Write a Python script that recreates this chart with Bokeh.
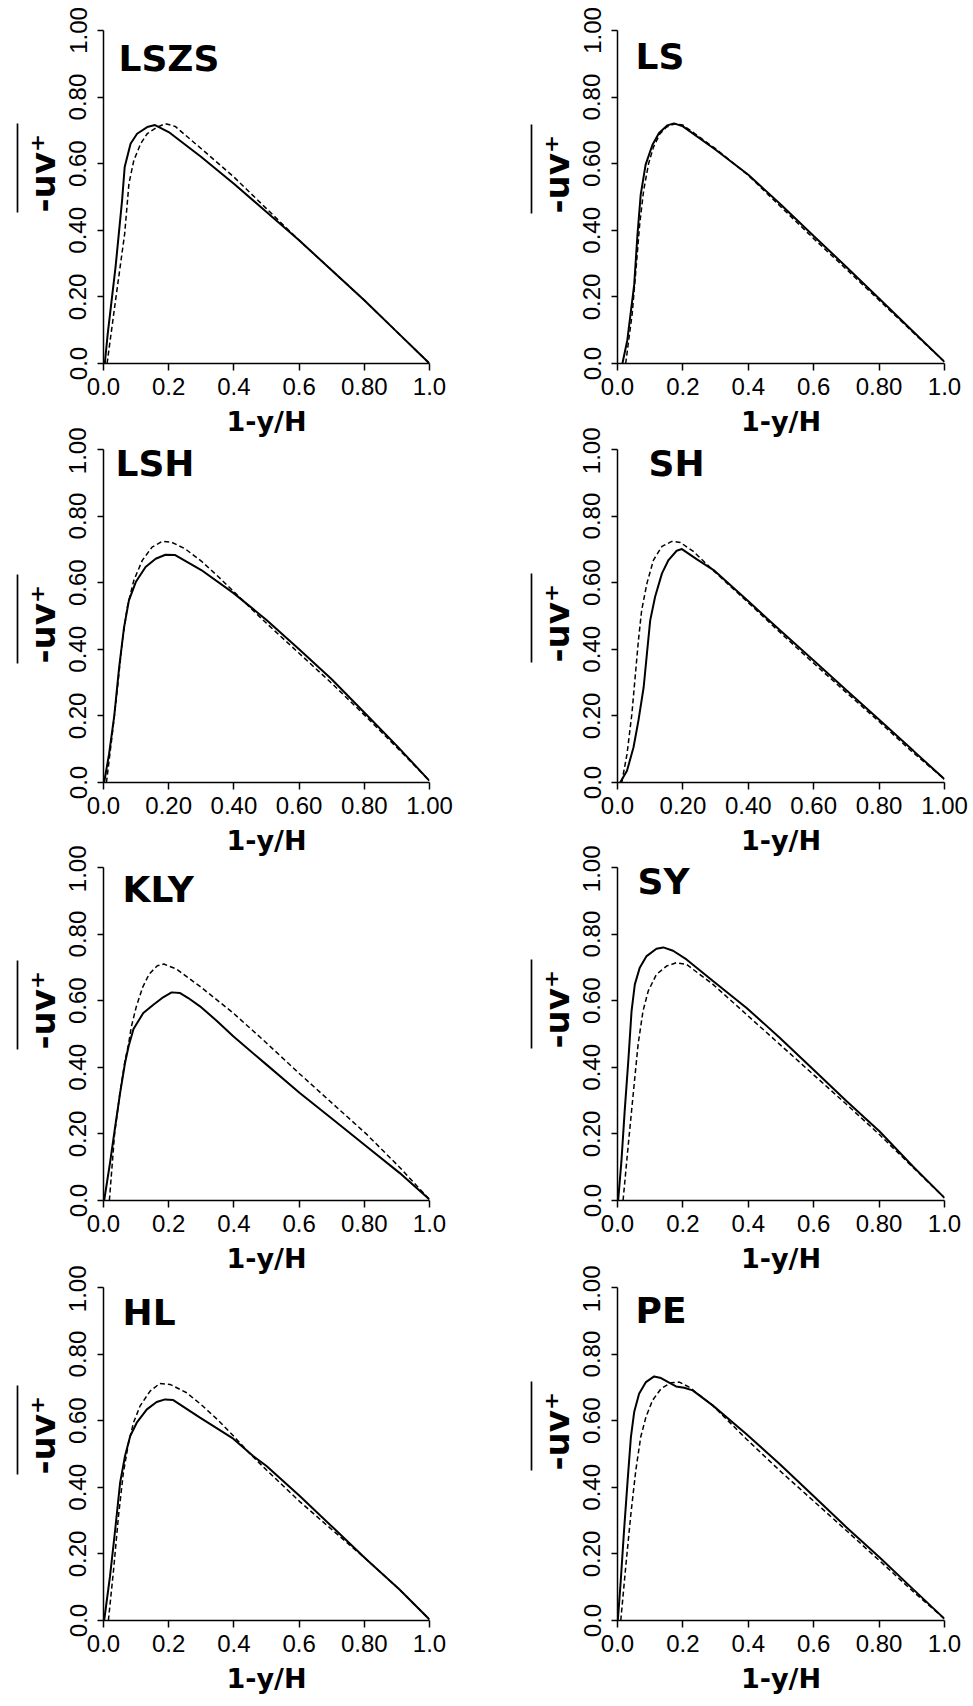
from bokeh.plotting import figure
from bokeh.layouts import row, column
from bokeh.models import Label, Title, LinearAxis, FixedTicker, Range1d
from bokeh.embed import file_html
from bokeh.resources import INLINE

# ---------------- data ----------------
panel_names = ["LSZS", "LS", "LSH", "SH", "KLY", "SY", "HL", "PE"]
tick_values = [0.0, 0.2, 0.4, 0.6, 0.8, 1.0]
x_labels_short = ["0.0", "0.2", "0.4", "0.6", "0.80", "1.0"]
x_labels_long = ["0.0", "0.20", "0.40", "0.60", "0.80", "1.00"]
y_labels = ["0.0", "0.20", "0.40", "0.60", "0.80", "1.00"]
x_title = "1-y/H"
y_title = "-uv\u207a"

lszs_solid_x = [0.004, 0.013, 0.037, 0.057, 0.065, 0.083, 0.103, 0.134, 0.158, 0.2, 0.3, 0.4, 0.5, 0.6, 0.7, 0.8, 0.9, 1.0]
lszs_solid_y = [0.0, 0.09, 0.29, 0.49, 0.59, 0.66, 0.69, 0.71, 0.716, 0.695, 0.62, 0.54, 0.455, 0.37, 0.28, 0.19, 0.095, 0.0]
lszs_dash_x = [0.011, 0.037, 0.065, 0.078, 0.093, 0.114, 0.134, 0.165, 0.19, 0.22, 0.3, 0.4, 0.5, 0.6, 0.7, 0.8, 0.9, 1.0]
lszs_dash_y = [0.0, 0.19, 0.39, 0.54, 0.61, 0.66, 0.69, 0.71, 0.72, 0.712, 0.645, 0.56, 0.465, 0.37, 0.28, 0.19, 0.095, 0.0]

ls_solid_x = [0.015, 0.03, 0.051, 0.061, 0.071, 0.086, 0.107, 0.127, 0.152, 0.173, 0.2, 0.3, 0.4, 0.5, 0.6, 0.7, 0.8, 0.9, 1.0]
ls_solid_y = [0.0, 0.07, 0.236, 0.386, 0.507, 0.597, 0.657, 0.692, 0.715, 0.721, 0.712, 0.642, 0.567, 0.477, 0.383, 0.29, 0.195, 0.1, 0.005]
ls_dash_x = [0.025, 0.045, 0.058, 0.068, 0.08, 0.095, 0.11, 0.13, 0.15, 0.175, 0.2, 0.3, 0.4, 0.5, 0.6, 0.7, 0.8, 0.9, 1.0]
ls_dash_y = [0.0, 0.15, 0.3, 0.42, 0.52, 0.6, 0.65, 0.69, 0.71, 0.72, 0.716, 0.645, 0.565, 0.47, 0.375, 0.283, 0.19, 0.097, 0.005]

lsh_solid_x = [0.002, 0.017, 0.033, 0.048, 0.063, 0.078, 0.099, 0.129, 0.16, 0.19, 0.22, 0.3, 0.4, 0.5, 0.6, 0.7, 0.8, 0.9, 1.0]
lsh_solid_y = [0.0, 0.085, 0.2, 0.346, 0.466, 0.547, 0.602, 0.647, 0.672, 0.684, 0.683, 0.638, 0.568, 0.488, 0.4, 0.31, 0.21, 0.11, 0.005]
lsh_dash_x = [0.009, 0.027, 0.043, 0.058, 0.073, 0.093, 0.119, 0.149, 0.18, 0.21, 0.25, 0.3, 0.35, 0.4, 0.45, 0.5, 0.6, 0.7, 0.8, 0.9, 1.0]
lsh_dash_y = [0.0, 0.145, 0.286, 0.426, 0.527, 0.607, 0.667, 0.707, 0.724, 0.721, 0.702, 0.665, 0.62, 0.573, 0.525, 0.478, 0.388, 0.298, 0.203, 0.105, 0.005]

sh_solid_x = [0.008, 0.029, 0.049, 0.064, 0.08, 0.09, 0.1, 0.115, 0.136, 0.156, 0.181, 0.197, 0.243, 0.294, 0.396, 0.497, 0.599, 0.701, 0.803, 0.905, 1.0]
sh_solid_y = [0.0, 0.035, 0.106, 0.186, 0.286, 0.387, 0.487, 0.558, 0.628, 0.668, 0.696, 0.701, 0.67, 0.638, 0.548, 0.457, 0.367, 0.276, 0.186, 0.095, 0.01]
sh_dash_x = [0.013, 0.029, 0.044, 0.054, 0.064, 0.074, 0.09, 0.11, 0.136, 0.166, 0.192, 0.232, 0.3, 0.4, 0.5, 0.6, 0.7, 0.8, 0.9, 1.0]
sh_dash_y = [0.0, 0.085, 0.206, 0.317, 0.427, 0.518, 0.598, 0.668, 0.709, 0.724, 0.721, 0.694, 0.63, 0.54, 0.448, 0.358, 0.27, 0.183, 0.093, 0.01]

kly_solid_x = [0.002, 0.02, 0.036, 0.051, 0.066, 0.077, 0.092, 0.122, 0.153, 0.184, 0.209, 0.235, 0.26, 0.296, 0.347, 0.398, 0.5, 0.602, 0.704, 0.806, 0.908, 1.0]
kly_solid_y = [0.0, 0.113, 0.223, 0.323, 0.413, 0.463, 0.515, 0.563, 0.588, 0.611, 0.625, 0.623, 0.608, 0.583, 0.54, 0.493, 0.408, 0.323, 0.243, 0.163, 0.083, 0.003]
kly_dash_x = [0.018, 0.034, 0.05, 0.066, 0.077, 0.085, 0.1, 0.12, 0.14, 0.165, 0.185, 0.224, 0.296, 0.398, 0.5, 0.602, 0.704, 0.806, 0.908, 1.0]
kly_dash_y = [0.0, 0.2, 0.32, 0.42, 0.47, 0.52, 0.58, 0.64, 0.68, 0.705, 0.71, 0.695, 0.643, 0.563, 0.473, 0.38, 0.29, 0.2, 0.1, 0.003]

sy_solid_x = [0.002, 0.012, 0.022, 0.033, 0.043, 0.053, 0.068, 0.089, 0.119, 0.14, 0.17, 0.211, 0.292, 0.394, 0.496, 0.598, 0.7, 0.801, 0.903, 1.0]
sy_solid_y = [0.0, 0.118, 0.269, 0.419, 0.569, 0.649, 0.699, 0.734, 0.756, 0.76, 0.75, 0.724, 0.659, 0.579, 0.489, 0.394, 0.299, 0.208, 0.103, 0.008]
sy_dash_x = [0.017, 0.033, 0.048, 0.063, 0.078, 0.094, 0.119, 0.15, 0.18, 0.211, 0.292, 0.394, 0.496, 0.598, 0.7, 0.801, 0.903, 1.0]
sy_dash_y = [0.0, 0.168, 0.319, 0.469, 0.569, 0.629, 0.679, 0.704, 0.714, 0.709, 0.649, 0.559, 0.469, 0.379, 0.289, 0.198, 0.1, 0.008]

hl_solid_x = [0.002, 0.02, 0.036, 0.051, 0.066, 0.082, 0.102, 0.133, 0.163, 0.189, 0.214, 0.296, 0.398, 0.459, 0.5, 0.602, 0.704, 0.806, 0.908, 1.0]
hl_solid_y = [0.0, 0.133, 0.274, 0.414, 0.494, 0.554, 0.594, 0.634, 0.656, 0.664, 0.662, 0.609, 0.546, 0.494, 0.464, 0.374, 0.279, 0.184, 0.093, 0.003]
hl_dash_x = [0.015, 0.031, 0.046, 0.061, 0.077, 0.092, 0.112, 0.143, 0.173, 0.204, 0.255, 0.3, 0.35, 0.4, 0.45, 0.5, 0.602, 0.704, 0.806, 0.908, 1.0]
hl_dash_y = [0.0, 0.153, 0.314, 0.444, 0.534, 0.594, 0.644, 0.689, 0.712, 0.709, 0.684, 0.648, 0.603, 0.553, 0.5, 0.452, 0.357, 0.27, 0.184, 0.093, 0.003]

pe_solid_x = [0.001, 0.01, 0.02, 0.031, 0.041, 0.051, 0.066, 0.087, 0.112, 0.133, 0.158, 0.179, 0.204, 0.23, 0.291, 0.393, 0.495, 0.597, 0.699, 0.801, 0.903, 1.0]
pe_solid_y = [0.0, 0.12, 0.27, 0.421, 0.551, 0.626, 0.681, 0.716, 0.733, 0.728, 0.714, 0.703, 0.699, 0.691, 0.646, 0.561, 0.471, 0.376, 0.281, 0.19, 0.095, 0.005]
pe_dash_x = [0.01, 0.026, 0.041, 0.056, 0.071, 0.087, 0.107, 0.133, 0.163, 0.189, 0.219, 0.291, 0.393, 0.495, 0.597, 0.699, 0.801, 0.903, 1.0]
pe_dash_y = [0.0, 0.17, 0.321, 0.451, 0.551, 0.611, 0.661, 0.696, 0.714, 0.716, 0.701, 0.646, 0.546, 0.451, 0.361, 0.271, 0.18, 0.088, 0.005]

solid_series = [(lszs_solid_x, lszs_solid_y), (ls_solid_x, ls_solid_y), (lsh_solid_x, lsh_solid_y), (sh_solid_x, sh_solid_y),
                (kly_solid_x, kly_solid_y), (sy_solid_x, sy_solid_y), (hl_solid_x, hl_solid_y), (pe_solid_x, pe_solid_y)]
dash_series = [(lszs_dash_x, lszs_dash_y), (ls_dash_x, ls_dash_y), (lsh_dash_x, lsh_dash_y), (sh_dash_x, sh_dash_y),
               (kly_dash_x, kly_dash_y), (sy_dash_x, sy_dash_y), (hl_dash_x, hl_dash_y), (pe_dash_x, pe_dash_y)]
x_label_sets = [x_labels_short, x_labels_short, x_labels_long, x_labels_long,
                x_labels_short, x_labels_short, x_labels_short, x_labels_short]

# ---------------- layout / style ----------------
FRAME_H = 333
FRAME_W = [326, 327]
BORDER_L = [103, 96]
BORDER_R = [92, 27]
BORDER_T = [30, 22, 22, 22]
BORDER_B = 82
ROW_SHIFT = [0, -18, -19, -17]
title_dx = [15, 18, 12, 31, 19, 20, 19, 18]
title_cap_top = [15, 13, 1, 1, 9, 1, 12, 10]
ylab_bottom = [182, 183, 214, 213, 182, 181, 187, 183]
OVERLINE_LEN = 89

TICK_FONT = "Liberation Sans"
BOLD_FONT = "DejaVu Sans"


def make_panel(i, top):
    col = i % 2
    p = figure(frame_width=FRAME_W[col], frame_height=FRAME_H, title=None,
               x_range=Range1d(0, 1), y_range=Range1d(0, 1),
               output_backend="svg", toolbar_location=None, tools="",
               min_border_left=BORDER_L[col], min_border_right=BORDER_R[col],
               min_border_top=top, min_border_bottom=BORDER_B)
    p.outline_line_color = None
    p.background_fill_color = None
    p.border_fill_color = None
    p.xgrid.visible = False
    p.ygrid.visible = False

    sx, sy = solid_series[i]
    dx, dy = dash_series[i]
    p.line(dx, dy, line_color="black", line_width=1.5, line_dash="5 3")
    p.line(sx, sy, line_color="black", line_width=2)

    for ax in (p.xaxis[0], p.yaxis[0]):
        ax.ticker = FixedTicker(ticks=tick_values)
        ax.minor_tick_line_color = None
        ax.axis_line_color = "black"
        ax.axis_line_width = 1.5
        ax.major_tick_line_color = "black"
        ax.major_tick_line_width = 1.5
        ax.major_tick_in = 0
        ax.major_label_text_font = TICK_FONT
        ax.major_label_text_font_size = "24px"
        ax.major_label_text_color = "black"

    xa = p.xaxis[0]
    xa.major_tick_out = 7
    xa.major_label_standoff = 7
    xa.major_label_overrides = {t: s for t, s in zip(tick_values, x_label_sets[i])}
    xa.axis_label = x_title
    xa.axis_label_text_font = BOLD_FONT
    xa.axis_label_text_font_style = "bold"
    xa.axis_label_text_font_size = "27px"
    xa.axis_label_text_color = "black"
    xa.axis_label_standoff = 8

    ya = p.yaxis[0]
    ya.major_tick_out = 6
    ya.major_label_standoff = 11
    ya.major_label_orientation = "vertical"
    ya.major_label_overrides = {t: s for t, s in zip(tick_values, y_labels)}

    # y axis title "-uv+" (rotated, left of the tick labels)
    start = FRAME_H - ylab_bottom[i]
    p.add_layout(Title(text=y_title, align="left", offset=start, vertical_align="bottom",
                       standoff=7, text_font=BOLD_FONT, text_font_style="bold",
                       text_font_size="34px", text_color="black"), "left")
    # overline above the y title: a bare axis rule limited by bounds
    ov = LinearAxis(ticker=FixedTicker(ticks=[]),
                    bounds=(start / FRAME_H, (start + OVERLINE_LEN) / FRAME_H),
                    axis_line_color="black", axis_line_width=1.7,
                    major_tick_out=0, major_tick_in=0, major_tick_line_color=None,
                    minor_tick_line_color=None, major_label_standoff=0,
                    major_label_text_font_size="0px")
    p.add_layout(ov, "left")

    # panel name
    p.add_layout(Label(x=title_dx[i], y=FRAME_H - (title_cap_top[i] + 13),
                       x_units="screen", y_units="screen", text=panel_names[i],
                       text_font=BOLD_FONT, text_font_style="bold", text_font_size="36px",
                       text_color="black", text_align="left", text_baseline="alphabetic"))
    return p


rows = []
for r in range(4):
    top = BORDER_T[r]
    rows.append(row(make_panel(2 * r, top), make_panel(2 * r + 1, top),
                    margin=(ROW_SHIFT[r], 0, 0, 0)))
layout = column(*rows)

open("out.html", "w").write(file_html(layout, INLINE))
